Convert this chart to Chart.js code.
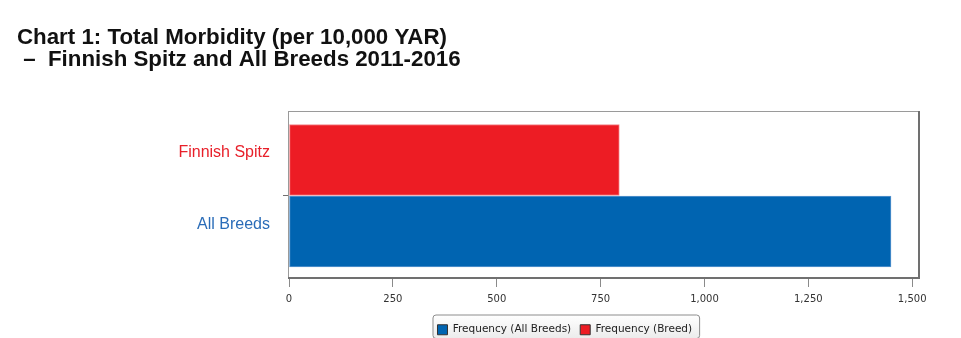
<!DOCTYPE html>
<html>
<head>
<meta charset="utf-8">
<script src="https://cdn.jsdelivr.net/npm/chart.js@4.4.1/dist/chart.umd.min.js"></script>
<style>
  body { margin: 0; background: #fff; }
  #wrap { width: 961px; height: 338px; }
</style>
</head>
<body>
<div id="wrap"><canvas id="morbidity-chart"></canvas></div>
<script>
// Chart data
const categories = ['Finnish Spitz', 'All Breeds'];
const allBreedsValues = [null, 1449];
const breedValues = [795, null];
const seriesNames = ['Frequency (All Breeds)', 'Frequency (Breed)'];
const xTickValues = [0, 250, 500, 750, 1000, 1250, 1500];
const titleLines = ['Chart 1: Total Morbidity (per 10,000 YAR)', ' \u2013  Finnish Spitz and All Breeds 2011-2016'];
const labelColors = ['#E8202A', '#2A6CB8'];

// one point per category, placed on the y scale by its index
function toPoints(values) {
    return values.map((v, i) => ({ x: v, y: i }));
}

// frame around the plot area and a box around the legend
const framePlugin = {
    id: 'frame',
    afterLayout(chart) {
        // the legend sits right of the page centre and low in the original
        const lg = chart.legend;
        const shiftX = 564.8 - (lg.left + lg.right) / 2;
        lg.left += shiftX;
        lg.right += shiftX;
        lg.top += 7;
        lg.bottom += 7;
    },
    afterDatasetsDraw(chart) {
        const { ctx, chartArea: a } = chart;
        ctx.save();
        ctx.strokeStyle = '#9a9a9a';
        ctx.lineWidth = 1;
        ctx.strokeRect(a.left - 0.5, a.top - 0.5, a.right - a.left + 1, a.bottom - a.top + 1);
        ctx.strokeStyle = '#707070';
        ctx.lineWidth = 2;
        ctx.beginPath();
        ctx.moveTo(a.right + 1, a.top - 1);
        ctx.lineTo(a.right + 1, a.bottom + 1);
        ctx.moveTo(a.left - 1, a.bottom + 1);
        ctx.lineTo(a.right + 2, a.bottom + 1);
        ctx.stroke();
        ctx.restore();
    },
    afterDraw(chart) {
        const boxes = chart.legend.legendHitBoxes;
        if (!boxes || !boxes.length) return;
        const { ctx } = chart;
        const left = Math.min(...boxes.map(b => b.left)) - 5;
        const right = Math.max(...boxes.map(b => b.left + b.width)) + 7;
        const top = Math.min(...boxes.map(b => b.top)) - 10;
        const bottom = Math.max(...boxes.map(b => b.top + b.height)) + 3;
        ctx.save();
        ctx.globalCompositeOperation = 'destination-over';
        ctx.beginPath();
        ctx.roundRect(left + 0.5, top + 0.5, right - left, bottom - top, 3);
        const grad = ctx.createLinearGradient(0, top, 0, bottom);
        grad.addColorStop(0, '#ffffff');
        grad.addColorStop(1, '#ececec');
        ctx.fillStyle = grad;
        ctx.fill();
        ctx.globalCompositeOperation = 'source-over';
        ctx.strokeStyle = '#8c8c8c';
        ctx.lineWidth = 1;
        ctx.stroke();
        ctx.restore();
    }
};

const barStyle = { grouped: false, barThickness: 71, borderWidth: 1, borderSkipped: false };

const ctx = document.getElementById('morbidity-chart');
new Chart(ctx, {
    type: 'bar',
    data: {
        datasets: [{
            label: seriesNames[0],
            data: toPoints(allBreedsValues),
            backgroundColor: '#0064B1',
            borderColor: '#5C97D0',
            ...barStyle
        }, {
            label: seriesNames[1],
            data: toPoints(breedValues),
            backgroundColor: '#ED1C24',
            borderColor: '#F3868A',
            ...barStyle
        }]
    },
    plugins: [framePlugin],
    options: {
        indexAxis: 'y',
        locale: 'en-US',
        responsive: true,
        maintainAspectRatio: false,
        animation: false,
        layout: {
            padding: { left: 17, right: 43, top: 0, bottom: 0 }
        },
        scales: {
            x: {
                type: 'linear',
                min: 0,
                max: 1514,
                offset: false,
                afterBuildTicks(scale) {
                    scale.ticks = xTickValues.map(v => ({ value: v }));
                },
                ticks: {
                    padding: 6,
                    color: '#333',
                    font: { family: 'DejaVu Sans', size: 10 }
                },
                grid: {
                    drawOnChartArea: false,
                    offset: false,
                    tickLength: 10,
                    tickColor: '#8a8a8a'
                },
                border: { display: false },
                afterFit(scale) { scale.height = 31.5; }
            },
            y: {
                type: 'linear',
                reverse: true,
                offset: false,
                min: -0.671,
                max: 1.636,
                afterBuildTicks(scale) {
                    const ticks = [];
                    categories.forEach((c, i) => {
                        ticks.push({ value: i });
                        if (i < categories.length - 1) ticks.push({ value: i + 0.5 });
                    });
                    scale.ticks = ticks;
                },
                ticks: {
                    callback: (value) => Number.isInteger(value) ? categories[value] : '',
                    color: (c) => (c.tick && Number.isInteger(c.tick.value)) ? labelColors[c.tick.value] : '#000',
                    font: { family: 'Liberation Sans', size: 16 },
                    padding: 13,
                    labelOffset: -7
                },
                grid: {
                    drawOnChartArea: false,
                    offset: false,
                    tickLength: 6,
                    tickColor: (c) => (c.tick && !Number.isInteger(c.tick.value)) ? '#707070' : 'rgba(0,0,0,0)'
                },
                border: { display: false },
                afterFit(scale) { scale.width = 272; }
            }
        },
        plugins: {
            title: {
                display: true,
                text: titleLines,
                align: 'start',
                color: '#111',
                font: { family: 'Liberation Sans', size: 22.3, weight: 'bold', lineHeight: '22.3px' },
                padding: { top: 26.5, bottom: 40.9 }
            },
            legend: {
                position: 'bottom',
                labels: {
                    boxWidth: 10,
                    boxHeight: 10,
                    padding: 9,
                    color: '#222',
                    font: { family: 'DejaVu Sans', size: 10.5 },
                    generateLabels(chart) {
                        const items = Chart.defaults.plugins.legend.labels.generateLabels(chart);
                        items.forEach(it => { it.strokeStyle = '#333'; it.lineWidth = 1; });
                        return items;
                    }
                }
            },
            tooltip: { enabled: false }
        }
    }
});
</script>
</body>
</html>
